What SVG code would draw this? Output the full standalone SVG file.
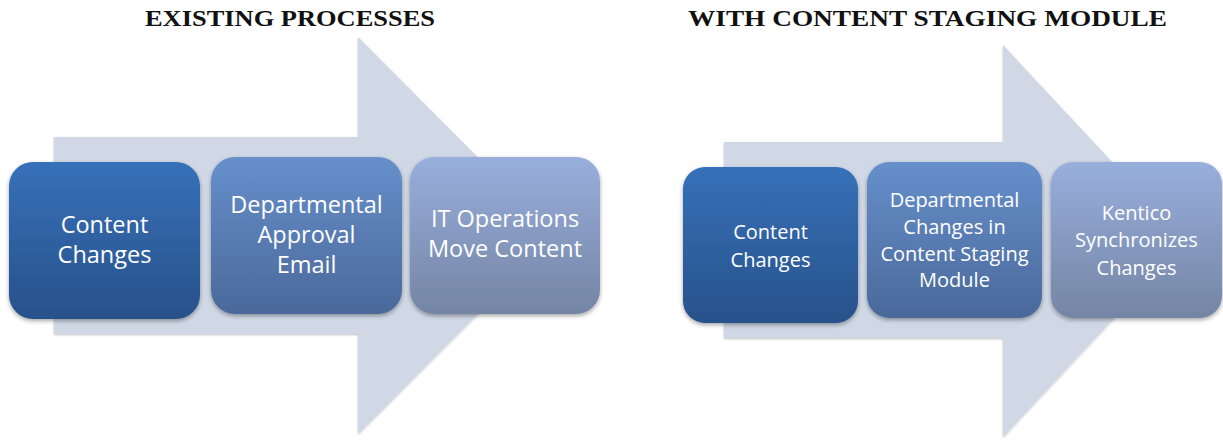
<svg xmlns="http://www.w3.org/2000/svg" width="1223" height="440" viewBox="0 0 1223 440">
<style>
.title{font-family:"Liberation Serif","Times New Roman",serif;font-weight:bold;font-size:23px;fill:#111}
.lbl{font-family:"Open Sans","Noto Sans",sans-serif;fill:#fff;text-anchor:middle}
.big{font-size:23.5px}
.small{font-size:20px}
.arrow{fill:#d0d8e6}
</style>
<defs>
<linearGradient id="g1" x1="0" y1="0" x2="0" y2="1"><stop offset="0" stop-color="#3671b9"/><stop offset="1" stop-color="#28518a"/></linearGradient>
<linearGradient id="g2" x1="0" y1="0" x2="0" y2="1"><stop offset="0" stop-color="#668fcb"/><stop offset="1" stop-color="#4a699a"/></linearGradient>
<linearGradient id="g3" x1="0" y1="0" x2="0" y2="1"><stop offset="0" stop-color="#98aedc"/><stop offset="1" stop-color="#7485a4"/></linearGradient>
<filter id="sh" x="-10%" y="-10%" width="120%" height="125%"><feDropShadow dx="0" dy="2" stdDeviation="2" flood-color="#000" flood-opacity="0.35"/></filter>
<filter id="ash" x="-5%" y="-5%" width="110%" height="110%"><feDropShadow dx="0" dy="1" stdDeviation="1" flood-color="#000" flood-opacity="0.25"/></filter>
</defs>
<text class="title" x="145" y="26" textLength="290" lengthAdjust="spacingAndGlyphs">EXISTING PROCESSES</text>
<text class="title" x="688" y="26" textLength="479" lengthAdjust="spacingAndGlyphs">WITH CONTENT STAGING MODULE</text>
<g id="connectors">
<polygon class="arrow" filter="url(#ash)" points="54,137 358,137 358,37 556,235.5 358,434 358,334 54,334"/>
<polygon class="arrow" filter="url(#ash)" points="724,142 1003,142 1003,45 1186,241 1003,437 1003,338 724,338"/>
</g>
<g id="l-content-changes">
<rect x="9" y="162" width="191" height="157" rx="24" fill="url(#g1)" filter="url(#sh)"/>
<text class="lbl big" x="104.5" y="233">Content</text>
<text class="lbl big" x="104.5" y="263">Changes</text>
</g>
<g id="l-dept-approval">
<rect x="211" y="157" width="191" height="157" rx="24" fill="url(#g2)" filter="url(#sh)"/>
<text class="lbl big" x="306.5" y="213">Departmental</text>
<text class="lbl big" x="306.5" y="243">Approval</text>
<text class="lbl big" x="306.5" y="273">Email</text>
</g>
<g id="l-it-ops">
<rect x="410" y="157" width="190" height="157" rx="24" fill="url(#g3)" filter="url(#sh)"/>
<text class="lbl big" x="505" y="227">IT Operations</text>
<text class="lbl big" x="505" y="257">Move Content</text>
</g>
<g id="r-content-changes">
<rect x="683" y="167" width="175" height="156" rx="22" fill="url(#g1)" filter="url(#sh)"/>
<text class="lbl small" x="770.5" y="239">Content</text>
<text class="lbl small" x="770.5" y="267">Changes</text>
</g>
<g id="r-dept-staging">
<rect x="867" y="162" width="175" height="156" rx="22" fill="url(#g2)" filter="url(#sh)"/>
<text class="lbl small" x="954.5" y="207">Departmental</text>
<text class="lbl small" x="954.5" y="234">Changes in</text>
<text class="lbl small" x="954.5" y="261">Content Staging</text>
<text class="lbl small" x="954.5" y="287">Module</text>
</g>
<g id="r-kentico-sync">
<rect x="1051" y="162" width="171" height="156" rx="22" fill="url(#g3)" filter="url(#sh)"/>
<text class="lbl small" x="1136.5" y="220">Kentico</text>
<text class="lbl small" x="1136.5" y="247">Synchronizes</text>
<text class="lbl small" x="1136.5" y="275">Changes</text>
</g>
</svg>
